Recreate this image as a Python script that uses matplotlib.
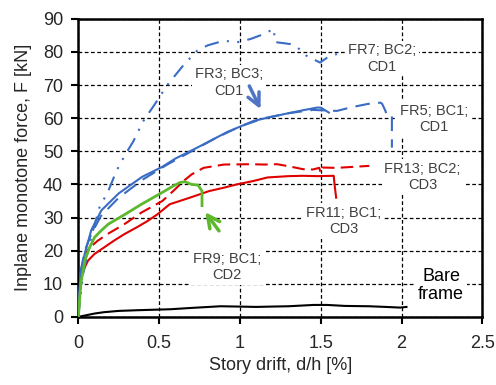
import numpy as np
import matplotlib
matplotlib.use("Agg")
from matplotlib import pyplot as plt

plt.rcParams["font.family"] = ["Liberation Sans", "DejaVu Sans"]

# FR7; BC2; CD1 (blue, dash-dot-dot)
fr7_x = [0, 0.01, 0.03, 0.06, 0.09, 0.13, 0.185, 0.235, 0.29, 0.34, 0.40, 0.47, 0.55, 0.65,
         0.735, 0.8, 0.9, 0.98, 1.064, 1.147, 1.21, 1.215, 1.31, 1.355, 1.41, 1.495, 1.54, 1.6]
fr7_y = [0, 5, 13, 20, 26, 33, 38, 44, 49, 53, 59, 64, 70, 76,
         80.4, 82, 83.4, 82.9, 83.9, 85.4, 87, 83, 82.4, 81.4, 78.9, 76.8, 78.3, 79.4]

# FR3; BC3; CD1 (blue, solid)
fr3_x = [0, 0.005, 0.013, 0.04, 0.08, 0.143, 0.25, 0.395, 0.519, 0.6, 0.735, 0.92,
         1.085, 1.27, 1.4, 1.477, 1.5, 1.55]
fr3_y = [0, 6, 13.2, 19.2, 26.2, 32.2, 37.3, 42.3, 45.3, 47.8, 51.1, 55.8,
         59.2, 61.2, 62.5, 63.2, 63.2, 61.7]

# FR5; BC1; CD1 (blue, dashed)
fr5_x = [0, 0.015, 0.04, 0.08, 0.14, 0.25, 0.4, 0.55, 0.7, 0.85, 1.0, 1.15, 1.3, 1.45,
         1.6, 1.68, 1.79, 1.87, 1.88, 1.9, 1.91, 1.94, 1.94]
fr5_y = [0, 14, 20, 25, 30.5, 36, 41.5, 46, 50, 54, 57.5, 60, 61.5, 62.5,
         62.2, 63.2, 64.3, 64.7, 64.3, 62.2, 60.7, 60.7, 51.1]

# FR13; BC2; CD3 (red, dashed)
fr13_x = [0, 0.01, 0.03, 0.06, 0.12, 0.18, 0.285, 0.39, 0.52, 0.6, 0.65, 0.7, 0.775, 0.9,
          1.064, 1.15, 1.23, 1.3, 1.39, 1.45, 1.49, 1.5, 1.51, 1.6, 1.7, 1.8]
fr13_y = [0, 8, 15, 20.5, 23, 25, 28, 31.5, 35, 38.6, 41, 43, 45, 46,
          46.1, 46, 46.1, 45.5, 44.6, 44.5, 45, 43.5, 45.1, 45, 45.3, 45.6]

# FR11; BC1; CD3 (red, solid)
fr11_x = [0, 0.005, 0.018, 0.04, 0.06, 0.1, 0.16, 0.22, 0.285, 0.36, 0.43, 0.49, 0.565,
          0.69, 0.81, 0.9, 0.98, 1.08, 1.17, 1.3, 1.39, 1.48, 1.58, 1.585, 1.595]
fr11_y = [0, 5, 12, 15, 17, 19, 21, 23, 25, 27, 29, 31, 34,
          36, 38, 39, 40, 41, 42.1, 42.5, 42.6, 42.5, 42.6, 40, 36]

# FR9; BC1; CD2 (green, solid)
fr9_x = [0, 0.015, 0.04, 0.07, 0.1, 0.14, 0.185, 0.29, 0.39, 0.52, 0.59, 0.63, 0.66,
         0.7, 0.74, 0.765, 0.765]
fr9_y = [0, 10, 17, 21, 24, 26, 28, 31, 34, 37.6, 39.6, 40.6, 40.8,
         40, 39.8, 38, 33.6]

# Bare frame (black)
bare_x = [0, 0.05, 0.1, 0.157, 0.25, 0.363, 0.5, 0.57, 0.7, 0.88, 1.0, 1.1, 1.19, 1.3,
          1.456, 1.54, 1.65, 1.8, 1.9, 1.99, 2.03]
bare_y = [0, 0.5, 1.0, 1.4, 1.8, 2.0, 2.2, 2.3, 2.7, 3.2, 3.1, 3.0, 3.1, 3.2,
          3.6, 3.6, 3.3, 3.2, 3.0, 2.8, 3.0]

blue = "#3A6CC4"
red = "#E00000"
green = "#5DB82E"
txt = "#404040"

fig = plt.figure(figsize=(4.96, 3.85), dpi=100)
ax = fig.add_axes([0.158, 0.177, 0.8146, 0.774])

ax.plot(bare_x, bare_y, c="black", lw=1.5, zorder=4)
ax.plot(fr11_x, fr11_y, c=red, lw=1.5, zorder=4)
ax.plot(fr13_x, fr13_y, c=red, lw=1.5, dashes=(6, 3), zorder=4)
ax.plot(fr9_x, fr9_y, c=green, lw=2, zorder=5)
ax.plot(fr5_x, fr5_y, c=blue, lw=1.5, dashes=(7, 4), zorder=4)
ax.plot(fr3_x, fr3_y, c=blue, lw=1.5, zorder=4)
ax.plot(fr7_x, fr7_y, c=blue, lw=1.5, dashes=(7, 4, 1, 4, 1, 4), zorder=4)

ax.set_xlim(0, 2.5)
ax.set_ylim(0, 90)
ax.set_xticks(np.arange(0, 2.51, 0.5))
ax.set_xticklabels(["0", "0.5", "1", "1.5", "2", "2.5"])
ax.set_yticks(range(0, 91, 10))
ax.grid(True, c="black", ls=(0, (3, 2)), lw=0.9, zorder=1)
ax.set_axisbelow(True)

for s in ax.spines.values():
    s.set_linewidth(1.8)
ax.tick_params(direction="out", length=5, width=1.5, labelsize=13, colors="black",
               labelcolor="#262626")
ax.tick_params(axis="x", pad=8)
ax.tick_params(axis="y", pad=6)

ax.set_xlabel("Story drift, d/h [%]", fontsize=13, color="#262626", labelpad=4)
ax.set_ylabel("Inplane monotone force, F [kN]", fontsize=13, color="#262626", labelpad=8)

box = dict(fc="white", ec="none", pad=2)
lbl = dict(fontsize=10.5, color=txt, ha="center", va="center", linespacing=1.2,
           bbox=box, zorder=3)
ax.text(1.88, 78, "FR7; BC2;\nCD1", **lbl)
ax.text(0.93, 70.8, "FR3; BC3;\nCD1", **lbl)
ax.text(2.2, 59.7, "FR5; BC1;\nCD1", **lbl)
ax.text(2.13, 42.3, "FR13; BC2;\nCD3", **lbl)
ax.text(1.64, 29, "FR11; BC1;\nCD3", **lbl)
ax.text(0.92, 15, "FR9; BC1;\nCD2", **lbl)
ax.text(2.245, 9.4, "Bare\nframe", fontsize=13, color="black", ha="center",
        va="center", linespacing=1.1, bbox=box, zorder=3)

ax.annotate("", xy=(1.135, 62.0), xytext=(1.05, 70.5),
            arrowprops=dict(arrowstyle="->", color="#4F74C4", lw=2.5, mutation_scale=22),
            zorder=6)
ax.annotate("", xy=(0.775, 32.3), xytext=(0.88, 25.3),
            arrowprops=dict(arrowstyle="->", color=green, lw=2.5, mutation_scale=22),
            zorder=6)

fig.savefig("out.png", dpi=100)
